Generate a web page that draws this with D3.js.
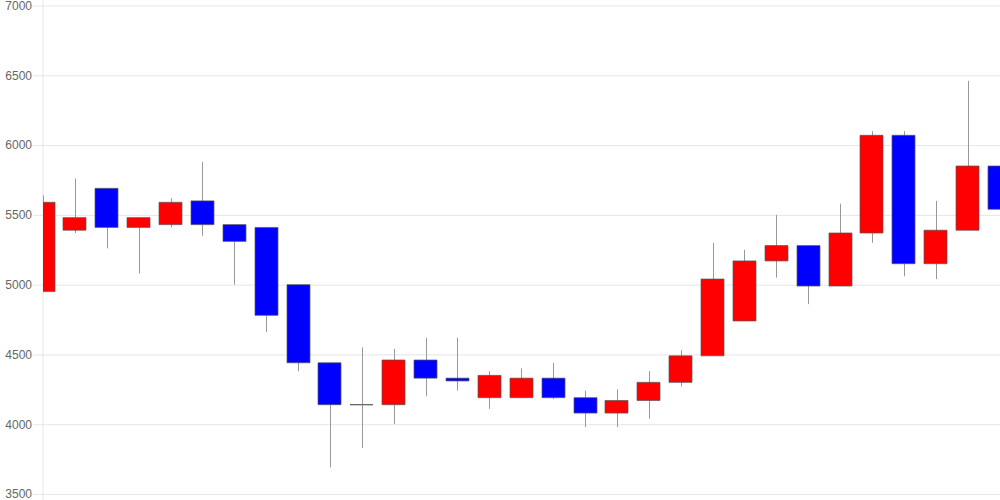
<!DOCTYPE html>
<html>
<head>
<meta charset="utf-8">
<script src="https://cdn.jsdelivr.net/npm/d3@7"></script>
<style>
  body { margin: 0; background: #fff; }
  svg { display: block; }
</style>
</head>
<body>
<div id="chart"></div>
<script>
// daily candles (red = up, blue = down)
const opens  = [4950, 5390, 5690, 5410, 5430, 5600, 5430, 5410, 5000, 4440,
                4140, 4140, 4460, 4330, 4190, 4190, 4330, 4190, 4080, 4170,
                4300, 4490, 4740, 5170, 5280, 4990, 5370, 6070, 5150, 5390, 5850];
const closes = [5590, 5480, 5410, 5480, 5590, 5430, 5310, 4780, 4440, 4140,
                4140, 4460, 4330, 4310, 4350, 4330, 4190, 4080, 4170, 4300,
                4490, 5040, 5170, 5280, 4990, 5370, 6070, 5150, 5390, 5850, 5540];
const highs  = [5640, 5760, 5690, 5480, 5620, 5880, 5430, 5410, 5000, 4440,
                4550, 4540, 4620, 4620, 4380, 4400, 4440, 4240, 4250, 4380,
                4530, 5300, 5250, 5500, 5280, 5580, 6100, 6100, 5600, 6460, 6040];
const lows   = [4950, 5370, 5260, 5080, 5410, 5350, 5000, 4660, 4380, 3690,
                3830, 4000, 4200, 4240, 4110, 4190, 4180, 3980, 3980, 4040,
                4270, 4490, 4740, 5050, 4860, 4990, 5300, 5060, 5040, 5390, 5260];
const yTicks = [3500, 4000, 4500, 5000, 5500, 6000, 6500, 7000];

const margin = {top: 5.5, right: 0, bottom: 6, left: 43},
    width = 1000 - margin.left - margin.right,
    height = 500 - margin.top - margin.bottom;

const svg = d3.select("#chart")
  .append("svg")
  .attr("width", 1000)
  .attr("height", 500)
  .append("g")
  .attr("transform", `translate(${margin.left},${margin.top})`);

const data = opens.map(function(o, i) {
  return {i: i, open: o, close: closes[i], high: highs[i], low: lows[i]};
});

const x = d3.scalePoint()
  .domain(data.map(function(d) { return d.i; }))
  .range([0, width - 0.5]);

const y = d3.scaleLinear()
  .domain([3500, 7000])
  .range([height, 0]);

// grid + y labels
const yAxis = svg.append("g")
  .call(d3.axisLeft(y).tickValues(yTicks).tickFormat(d3.format("d"))
    .tickSizeInner(10).tickSizeOuter(0).tickPadding(1));
yAxis.select(".domain").remove();
yAxis.selectAll(".tick line")
  .attr("x2", width)
  .attr("x1", -10)
  .attr("stroke", "#e6e6e6");
yAxis.selectAll(".tick text")
  .attr("fill", "#666")
  .style("font-family", "Liberation Sans, Arial, sans-serif")
  .style("font-size", "12px");

svg.append("line")
  .attr("x1", 0).attr("x2", 0)
  .attr("y1", -margin.top).attr("y2", height + margin.bottom)
  .attr("stroke", "#e6e6e6");

svg.append("clipPath")
  .attr("id", "plot-clip")
  .append("rect")
  .attr("x", 0).attr("y", -margin.top)
  .attr("width", width).attr("height", height + margin.top + margin.bottom);

const plot = svg.append("g").attr("clip-path", "url(#plot-clip)");
const bw = 23;

// wicks
plot.selectAll(".wick")
  .data(data)
  .join("line")
  .attr("x1", function(d) { return Math.round(x(d.i)) + 0.5; })
  .attr("x2", function(d) { return Math.round(x(d.i)) + 0.5; })
  .attr("y1", function(d) { return y(d.high); })
  .attr("y2", function(d) { return y(d.low); })
  .attr("stroke", "#999")
  .attr("stroke-width", 1);

// bodies (path so a flat doji still shows as a line)
plot.selectAll(".body")
  .data(data)
  .join("path")
  .attr("d", function(d) {
    const x0 = Math.round(x(d.i) - bw / 2),
        y0 = y(Math.max(d.open, d.close)),
        h = Math.abs(y(d.open) - y(d.close));
    return `M${x0},${y0}h${bw}v${h}h${-bw}Z`;
  })
  .attr("fill", function(d) { return d.close > d.open ? "#ff0000" : "#0000ff"; })
  .attr("stroke", function(d) { return d.close == d.open ? "#666" : "#555"; })
  .attr("stroke-opacity", function(d) { return d.close == d.open ? 1 : 0.7; })
  .attr("stroke-width", 1);
</script>
</body>
</html>
